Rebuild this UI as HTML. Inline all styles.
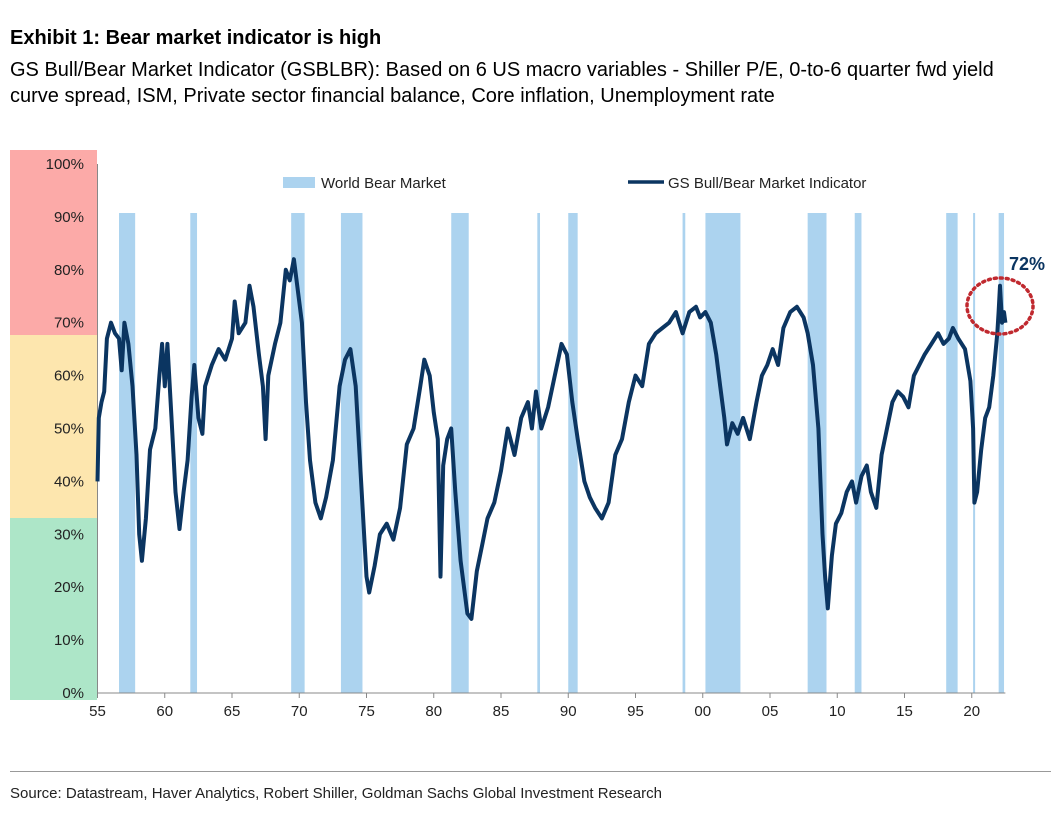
<!DOCTYPE html>
<html><head><meta charset="utf-8"><style>
body{margin:0;background:#fff;font-family:"Liberation Sans",Arial,sans-serif;}
#wrap{position:relative;width:1059px;height:816px;overflow:hidden;}
.t{position:absolute;left:10px;color:#000;white-space:nowrap;}
</style></head><body>
<div id="wrap">
<div class="t" style="top:27px;font-size:20px;font-weight:bold;">Exhibit 1: Bear market indicator is high</div>
<div class="t" style="top:57px;font-size:20px;line-height:26px;">GS Bull/Bear Market Indicator (GSBLBR): Based on 6 US macro variables - Shiller P/E, 0-to-6 quarter fwd yield<br>curve spread, ISM, Private sector financial balance, Core inflation, Unemployment rate</div>
<svg id="chart" width="1059" height="816" style="position:absolute;left:0;top:0;"></svg>
<div style="position:absolute;left:10px;right:8px;top:771px;border-top:1px solid #999;"></div>
<div class="t" style="top:785px;font-size:15px;color:#222;">Source: Datastream, Haver Analytics, Robert Shiller, Goldman Sachs Global Investment Research</div>
</div>
<script>
const yTicks=[0,10,20,30,40,50,60,70,80,90,100];
const xTicks=[55,60,65,70,75,80,85,90,95,100,105,110,115,120];
const xTickLabels=["55","60","65","70","75","80","85","90","95","00","05","10","15","20"];
const bearStart=[56.6,61.9,69.4,73.1,81.3,87.7,90.0,98.5,100.2,107.8,111.3,118.1,120.1,122.0];
const bearEnd=[57.8,62.4,70.4,74.7,82.6,87.9,90.7,98.7,102.8,109.2,111.8,118.95,120.25,122.4];
const years=[55.0,55.1,55.3,55.5,55.7,56.0,56.3,56.6,56.8,57.0,57.3,57.6,57.9,58.1,58.3,58.6,58.9,59.3,59.6,59.8,60.0,60.2,60.5,60.8,61.1,61.4,61.7,62.0,62.2,62.5,62.8,63.0,63.5,64.0,64.5,65.0,65.2,65.5,66.0,66.3,66.6,67.0,67.3,67.5,67.7,68.2,68.6,69.0,69.3,69.6,69.9,70.2,70.5,70.8,71.2,71.6,72.0,72.5,73.0,73.4,73.8,74.2,74.6,75.0,75.2,75.6,76.0,76.5,77.0,77.5,78.0,78.5,79.0,79.3,79.7,80.0,80.3,80.5,80.7,81.0,81.3,81.6,82.0,82.5,82.8,83.2,83.6,84.0,84.5,85.0,85.5,86.0,86.5,87.0,87.3,87.6,88.0,88.5,89.0,89.5,89.9,90.3,90.7,91.2,91.6,92.0,92.5,93.0,93.5,94.0,94.5,95.0,95.5,96.0,96.5,97.0,97.5,98.0,98.5,99.0,99.5,99.8,100.2,100.6,101.0,101.3,101.6,101.8,102.2,102.6,103.0,103.5,104.0,104.4,104.8,105.2,105.6,106.0,106.5,107.0,107.5,107.8,108.2,108.6,108.9,109.1,109.3,109.6,109.9,110.3,110.7,111.1,111.4,111.8,112.2,112.5,112.9,113.3,113.7,114.1,114.5,114.9,115.3,115.7,116.1,116.5,117.0,117.5,117.9,118.3,118.6,119.0,119.5,119.9,120.1,120.2,120.4,120.7,121.0,121.3,121.6,121.9,122.0,122.1,122.25,122.4,122.5];
const values=[40,52,55,57,67,70,68,67,61,70,66,58,45,30,25,33,46,50,60,66,58,66,52,38,31,38,44,56,62,52,49,58,62,65,63,67,74,68,70,77,73,64,58,48,60,66,70,80,78,82,76,70,55,44,36,33,37,44,58,63,65,58,40,22,19,24,30,32,29,35,47,50,58,63,60,53,48,22,43,48,50,38,25,15,14,23,28,33,36,42,50,45,52,55,50,57,50,54,60,66,64,55,48,40,37,35,33,36,45,48,55,60,58,66,68,69,70,72,68,72,73,71,72,70,64,58,52,47,51,49,52,48,55,60,62,65,62,69,72,73,71,68,62,50,30,22,16,26,32,34,38,40,36,41,43,38,35,45,50,55,57,56,54,60,62,64,66,68,66,67,69,67,65,59,50,36,38,46,52,54,60,68,72,77,70,72,70];

const NS="http://www.w3.org/2000/svg";
const svg=document.getElementById('chart');
const X0=97.5,PX=13.45,Y0=693,PY=5.29;
const xs=v=>X0+(v-55)*PX, ys=v=>Y0-v*PY;
function mk(tag,attrs,parent){const e=document.createElementNS(NS,tag);for(const k in attrs)e.setAttribute(k,attrs[k]);(parent||svg).appendChild(e);return e;}
let z=mk('rect',{x:10,y:150,width:87,height:185,fill:'#fcaaa8'});


z=mk('rect',{x:10,y:335,width:87,height:183,fill:'#fde6ae'});


z=mk('rect',{x:10,y:518,width:87,height:182,fill:'#ade6c8'});


for(let i=0;i<bearStart.length;i++){
 const r=mk('rect',{x:xs(bearStart[i]),y:213,width:Math.max(2,xs(bearEnd[i])-xs(bearStart[i])),height:Y0-213,fill:'#acd3ef'});
 
 
}
let a=mk('line',{x1:X0,y1:164,x2:X0,y2:Y0,stroke:'#888','stroke-width':1});


a=mk('line',{x1:X0,y1:Y0,x2:xs(122.5),y2:Y0,stroke:'#888','stroke-width':1});


yTicks.forEach(t=>{
 const tx=mk('text',{x:84,y:ys(t)+5,'text-anchor':'end','font-size':15,fill:'#222'});
 tx.textContent=t+'%';
 
 
});
xTicks.forEach((t,i)=>{
 mk('line',{x1:xs(t),y1:Y0,x2:xs(t),y2:Y0+5,stroke:'#888'});
 const tx=mk('text',{x:xs(t),y:Y0+23,'text-anchor':'middle','font-size':15,fill:'#222'});
 tx.textContent=xTickLabels[i];
 
 
});
const d=years.map((y,i)=>(i?'L':'M')+xs(y).toFixed(1)+','+ys(values[i]).toFixed(1)).join('');
const p=mk('path',{d:d,fill:'none',stroke:'#0b3561','stroke-width':4,'stroke-linejoin':'round'});


let l=mk('rect',{x:283,y:177,width:32,height:11,fill:'#acd3ef'});


l=mk('text',{x:321,y:188,'font-size':15,fill:'#222'});l.textContent='World Bear Market';


l=mk('line',{x1:628,y1:182,x2:664,y2:182,stroke:'#0b3561','stroke-width':3.5});


l=mk('text',{x:668,y:188,'font-size':15,fill:'#222'});l.textContent='GS Bull/Bear Market Indicator';


l=mk('ellipse',{cx:1000,cy:306,rx:33,ry:28,fill:'none',stroke:'#c0292f','stroke-width':3.5,'stroke-dasharray':'2 4','stroke-linecap':'round'});


l=mk('text',{x:1009,y:270,'font-size':18,'font-weight':'bold',fill:'#0b3561'});l.textContent='72%';


</script>
</body></html>
